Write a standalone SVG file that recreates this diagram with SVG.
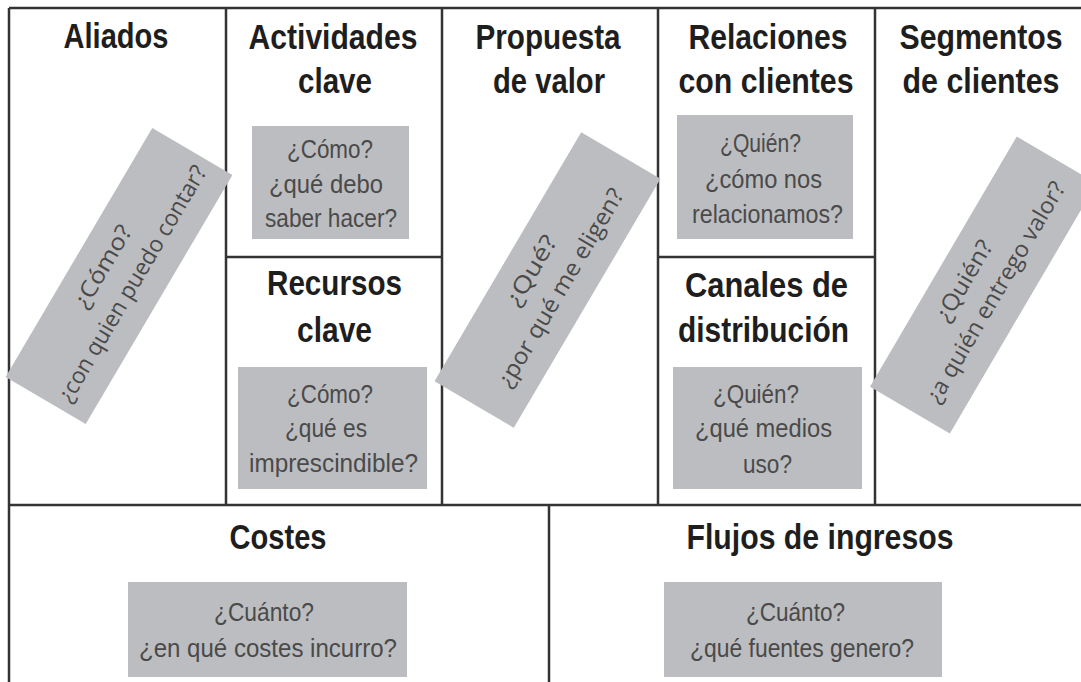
<svg xmlns="http://www.w3.org/2000/svg" width="1081" height="682" viewBox="0 0 1081 682">
<style>
.bg{fill:#ffffff}
.ln{stroke:#333333;stroke-width:2.5;fill:none}
.box{fill:#bcbdc0}
.t{font-family:"Liberation Sans Narrow","Liberation Sans",Arial,sans-serif;font-weight:bold;font-size:35px;fill:#1e1e1e;text-anchor:middle}
.q{font-family:"Liberation Sans Narrow","Liberation Sans",Arial,sans-serif;font-size:25px;fill:#4a4a4a;text-anchor:middle}
.r{font-family:"Open Sans","Liberation Sans",Arial,sans-serif;font-size:23px;fill:#4a4a4a;text-anchor:middle}
</style>
<rect class="bg" x="0" y="0" width="1081" height="682"/>
<g id="connectors">
<path class="ln" d="M9 8H1090M9 8V690M9 505H1090M226 8V505M442 8V505M658 8V505M875 8V505M226 257H442M658 257H875M549 505V690"/>
</g>
<g id="aliados">
<text class="t" x="116" y="48" textLength="105" lengthAdjust="spacingAndGlyphs">Aliados</text>
<g transform="translate(119,276) rotate(-59.5)">
<rect class="box" x="-144.5" y="-46.5" width="289" height="93"/>
<text class="r" x="0" y="-11" textLength="92" lengthAdjust="spacingAndGlyphs">¿Cómo?</text>
<text class="r" x="0" y="23" textLength="270" lengthAdjust="spacingAndGlyphs">¿con quien puedo contar?</text>
</g>
</g>
<g id="actividades">
<text class="t" x="333" y="49" textLength="169" lengthAdjust="spacingAndGlyphs">Actividades</text>
<text class="t" x="335" y="93" textLength="74" lengthAdjust="spacingAndGlyphs">clave</text>
<rect class="box" x="252" y="126" width="157" height="113"/>
<text class="q" x="330" y="158" textLength="86" lengthAdjust="spacingAndGlyphs">¿Cómo?</text>
<text class="q" x="326" y="193" textLength="114" lengthAdjust="spacingAndGlyphs">¿qué debo</text>
<text class="q" x="331" y="227" textLength="132" lengthAdjust="spacingAndGlyphs">saber hacer?</text>
</g>
<g id="recursos">
<text class="t" x="334.5" y="295" textLength="135" lengthAdjust="spacingAndGlyphs">Recursos</text>
<text class="t" x="334.5" y="342" textLength="75" lengthAdjust="spacingAndGlyphs">clave</text>
<rect class="box" x="238" y="367" width="189" height="122"/>
<text class="q" x="330" y="403" textLength="86" lengthAdjust="spacingAndGlyphs">¿Cómo?</text>
<text class="q" x="326" y="437" textLength="82" lengthAdjust="spacingAndGlyphs">¿qué es</text>
<text class="q" x="333.5" y="472" textLength="169" lengthAdjust="spacingAndGlyphs">imprescindible?</text>
</g>
<g id="propuesta">
<text class="t" x="548" y="49" textLength="145" lengthAdjust="spacingAndGlyphs">Propuesta</text>
<text class="t" x="549" y="93" textLength="112" lengthAdjust="spacingAndGlyphs">de valor</text>
<g transform="translate(547.5,280) rotate(-59.5)">
<rect class="box" x="-144.5" y="-46" width="289" height="92"/>
<text class="r" x="0" y="-11" textLength="78" lengthAdjust="spacingAndGlyphs">¿Qué?</text>
<text class="r" x="0" y="23" textLength="226" lengthAdjust="spacingAndGlyphs">¿por qué me eligen?</text>
</g>
</g>
<g id="relaciones">
<text class="t" x="768" y="49" textLength="159" lengthAdjust="spacingAndGlyphs">Relaciones</text>
<text class="t" x="766" y="93" textLength="175" lengthAdjust="spacingAndGlyphs">con clientes</text>
<rect class="box" x="677" y="115" width="176" height="124"/>
<text class="q" x="760.5" y="152" textLength="81" lengthAdjust="spacingAndGlyphs">¿Quién?</text>
<text class="q" x="763.5" y="188" textLength="117" lengthAdjust="spacingAndGlyphs">¿cómo nos</text>
<text class="q" x="767.5" y="223" textLength="151" lengthAdjust="spacingAndGlyphs">relacionamos?</text>
</g>
<g id="canales">
<text class="t" x="766.5" y="297" textLength="163" lengthAdjust="spacingAndGlyphs">Canales de</text>
<text class="t" x="763.5" y="342" textLength="171" lengthAdjust="spacingAndGlyphs">distribución</text>
<rect class="box" x="673" y="367" width="189" height="122"/>
<text class="q" x="756" y="403" textLength="86" lengthAdjust="spacingAndGlyphs">¿Quién?</text>
<text class="q" x="763.5" y="437" textLength="137" lengthAdjust="spacingAndGlyphs">¿qué medios</text>
<text class="q" x="767.5" y="473" textLength="49" lengthAdjust="spacingAndGlyphs">uso?</text>
</g>
<g id="segmentos">
<text class="t" x="981" y="49" textLength="163" lengthAdjust="spacingAndGlyphs">Segmentos</text>
<text class="t" x="981" y="93" textLength="157" lengthAdjust="spacingAndGlyphs">de clientes</text>
<g transform="translate(983.3,285) rotate(-59.6)">
<rect class="box" x="-145" y="-46.3" width="290" height="92.6"/>
<text class="r" x="-6" y="-11" textLength="90" lengthAdjust="spacingAndGlyphs">¿Quién?</text>
<text class="r" x="0" y="22" textLength="252" lengthAdjust="spacingAndGlyphs">¿a quién entrego valor?</text>
</g>
</g>
<g id="costes">
<text class="t" x="278" y="549" textLength="97" lengthAdjust="spacingAndGlyphs">Costes</text>
<rect class="box" x="128" y="582" width="279" height="95"/>
<text class="q" x="264" y="621" textLength="100" lengthAdjust="spacingAndGlyphs">¿Cuánto?</text>
<text class="q" x="268" y="657" textLength="258" lengthAdjust="spacingAndGlyphs">¿en qué costes incurro?</text>
</g>
<g id="flujos">
<text class="t" x="820" y="549" textLength="267" lengthAdjust="spacingAndGlyphs">Flujos de ingresos</text>
<rect class="box" x="664" y="582" width="278" height="95"/>
<text class="q" x="795.5" y="621" textLength="99" lengthAdjust="spacingAndGlyphs">¿Cuánto?</text>
<text class="q" x="802" y="657" textLength="224" lengthAdjust="spacingAndGlyphs">¿qué fuentes genero?</text>
</g>
</svg>
